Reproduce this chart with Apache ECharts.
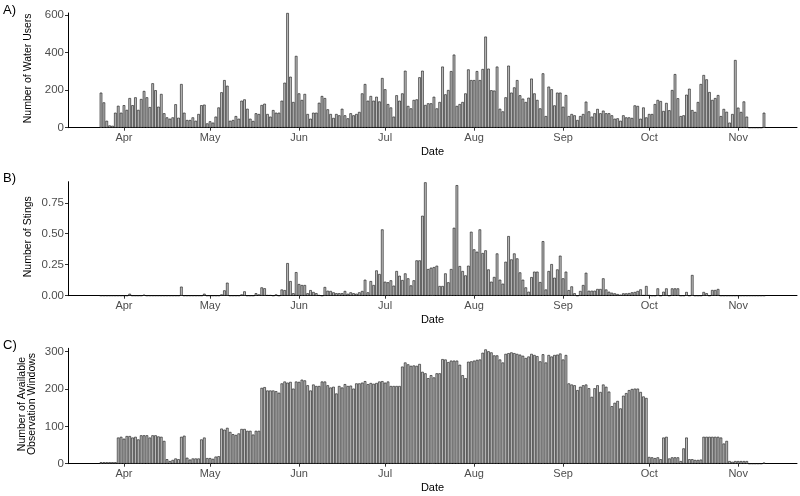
<!DOCTYPE html>
<html>
<head>
<meta charset="utf-8">
<script src="https://cdn.jsdelivr.net/npm/echarts@6/dist/echarts.min.js"></script>
<style>html,body{margin:0;padding:0;background:#fff}#c{width:800px;height:496px}</style>
</head>
<body>
<div id="c"></div>
<script>
// Axis days: Mar 13 .. Nov 21 ; data days: Mar 24 .. Nov 10 (232 days)
const monthNames = ['Mar','Apr','May','Jun','Jul','Aug','Sep','Oct','Nov'];
const monthLens  = [31,30,31,30,31,31,30,31,30];
const axisStart = {m:0, d:13};
const axisDays = 254;
const padBefore = 11;   // Mar 13..Mar 23
const tickLabels = ['Apr','May','Jun','Jul','Aug','Sep','Oct','Nov'];
const yTitles = ['Number of Water Users', 'Number of Stings', 'Number of Available\nObservation Windows'];
const panelTags = ['A)', 'B)', 'C)'];

// A) Number of water users, daily from Mar 24
const waterUsers = [
187,135,37,12,10,80,117,80,120,95,
158,120,162,95,153,196,162,110,237,200,
112,180,77,55,48,55,125,53,233,80,
41,41,55,37,73,120,123,23,34,27,
59,108,189,254,224,37,41,62,48,144,
151,101,48,36,77,73,121,128,73,
59,94,80,80,144,240,612,272,137,383,
183,148,180,73,48,80,80,133,169,158,
98,73,52,73,66,101,66,50,77,66,
73,84,183,233,144,169,144,165,140,265,
205,126,108,59,173,144,183,304,116,103,
148,151,269,304,121,130,130,165,103,137,
326,178,201,302,390,116,126,137,183,311,
254,254,302,254,313,486,
315,200,198,326,101,87,162,331,187,215,254,173,155,137,160,
262,183,148,103,290,62,219,205,119,187,
187,112,174,62,73,66,41,62,73,139,
87,59,77,100,77,91,77,77,66,48,
50,37,66,55,55,52,119,116,48,108,
55,73,73,126,148,142,89,132,93,201,
286,157,62,66,176,208,94,84,137,233,
281,258,190,148,158,174,62,100,85,27,
73,361,107,84,140,59,
0,0,0,0,0,80
];

// B) Number of stings, daily from Mar 24
const stings = [
0,0,0,0,0,0,0,0,0,0,
0.016,0,0,0,0,0.008,0,0,0,0,
0,0,0,0,0,0,0,0,0.073,0,
0,0,0,0,0,0,0.016,0,0,0,
0,0,0.01,0.043,0.105,0,0,0,0,0.01,
0.035,0,0,0,0.02,0.01,0.067,0.06,0.005,0.005,
0,0.01,0,0.05,0.045,0.263,0.118,0.02,0.19,0.094,
0.086,0.086,0.02,0.045,0.03,0.02,0.005,0,0.07,0.04,
0.038,0.027,0.02,0.02,0.02,0.038,0.016,0.027,0.02,0.016,
0.027,0.038,0.129,0.027,0.118,0.086,0.204,0.175,0.535,0.113,
0.108,0.124,0.081,0.199,0.161,0.126,0.18,0.14,0.083,0.124,
0.285,0.285,0.645,0.915,0.215,0.226,0.231,0.242,0.078,0.078,
0.18,0.108,0.215,0.548,0.892,0.239,0.199,0.164,0.242,0.516,
0.374,0.355,0.535,0.344,0.366,0.212,0.113,0.151,0.341,0.129,
0.097,0.274,0.481,0.293,0.341,0.301,0.188,0.129,0.067,0.032,
0.15,0.194,0.194,0.11,0.44,0.05,0.199,0.255,0.145,0.212,
0.323,0.14,0.194,0.045,0.075,0.02,0,0.038,0.086,0.185,
0.04,0.04,0.04,0.054,0.054,0.14,0.05,0.032,0.024,0.019,
0.013,0.008,0.019,0.019,0.021,0.027,0.03,0.038,0.051,0.005,
0.078,0.005,0,0,0.059,0,0.032,0.059,0,0.059,
0.059,0.059,0,0,0.03,0,0.167,0,0,0,
0.03,0.02,0,0.046,0.046,0.054,0,0,0,0,
0,0,0,0,0,0,0,0,0,0,
0,0
];

// C) Number of available observation windows, daily from Mar 24
const windows = [
4,4,4,4,4,4,
70,72,67,74,74,70,72,65,76,76,76,70,76,76,73,72,61,
12,7,10,14,12,
72,75,
16,11,14,14,14,
65,70,
15,15,13,19,20,
94,91,96,85,79,77,81,93,93,88,88,78,88,88,
203,205,196,
196,196,194,190,215,220,217,219,201,220,
219,225,223,210,196,212,208,208,220,220,
210,204,206,188,208,204,213,208,209,201,
215,215,217,221,213,216,214,216,220,221,
217,220,208,208,208,208,260,271,266,262,
263,262,267,246,242,229,237,231,242,242,
280,279,272,276,276,276,265,237,229,273,
274,276,278,279,297,306,301,298,290,290,
279,271,294,296,298,296,294,292,289,283,
287,
294,291,288,274,293,271,291,287,291,292,
295,279,291,215,212,210,197,206,210,212,
202,179,202,210,192,212,206,193,154,163,
168,148,182,189,197,200,201,201,192,180,
176,18,17,15,17,12,70,72,14,17,
17,17,7,41,70,12,12,10,10,11,
72,72,72,72,72,72,70,54,61,7,
5,7,7,7,7,7,
0,0,0,0,0,3
];

// build day categories
const days = [];
{
  let m = axisStart.m, d = axisStart.d;
  for (let i = 0; i < axisDays; i++) {
    days.push(monthNames[m] + '-' + String(d).padStart(2,'0'));
    d++;
    if (d > monthLens[m]) { d = 1; m++; }
  }
}
function pad(arr) {
  const out = new Array(axisDays).fill(null);
  arr.forEach((v, i) => { out[padBefore + i] = v; });
  return out;
}
const isMonthStart = (idx) => days[idx].endsWith('-01') && tickLabels.includes(days[idx].slice(0,3));

const chart = echarts.init(document.getElementById('c'), null, {renderer: 'canvas'});
const txt = '#4d4d4d';
const font = 'Liberation Sans, Arial, sans-serif';

const grids = [
  {left: 68, right: 3, top: 13, height: 114.7},
  {left: 68, right: 3, top: 181.7, height: 114},
  {left: 68, right: 3, top: 348.3, height: 115.4}
];

function xAxis(gi) {
  return {
    type: 'category', gridIndex: gi, data: days, boundaryGap: true,
    axisLine: {lineStyle: {color: '#000', width: 1}},
    axisTick: {show: true, alignWithLabel: true, length: 3, interval: (i) => isMonthStart(i), lineStyle: {color: '#333'}},
    axisLabel: {interval: (i) => isMonthStart(i), formatter: (v) => v.slice(0,3), color: txt, fontSize: 11, fontFamily: font, margin: 5},
    name: 'Date', nameLocation: 'middle', nameGap: 19,
    nameTextStyle: {color: '#000', fontSize: 11, fontFamily: font}
  };
}
function yAxis(gi, max, ticks, fmt) {
  return {
    type: 'value', gridIndex: gi, min: 0, max: max,
    axisLine: {show: true, lineStyle: {color: '#000', width: 1}},
    axisTick: {show: true, length: 3, customValues: ticks, lineStyle: {color: '#333'}},
    axisLabel: {customValues: ticks, color: txt, fontSize: 11.5, fontFamily: font, margin: 4, formatter: fmt},
    splitLine: {show: false}
  };
}
function series(gi, arr) {
  return {
    type: 'bar', xAxisIndex: gi, yAxisIndex: gi, data: pad(arr), barWidth: '90%',
    itemStyle: {color: '#bebebe', borderColor: '#111', borderWidth: 0.6},
    silent: true, animation: false
  };
}
const titleX = [28, 28, 27];
const graphics = [];
grids.forEach((g, i) => {
  graphics.push({
    type: 'text', x: titleX[i], y: g.top + g.height / 2 - 2, rotation: Math.PI / 2, silent: true,
    style: {text: yTitles[i], fill: '#000', font: '10.5px ' + font, textAlign: 'center', textVerticalAlign: 'middle', lineHeight: 10}
  });
  graphics.push({
    type: 'text', x: 3, y: g.top - 3, silent: true,
    style: {text: panelTags[i], fill: '#000', font: '13px ' + font, textAlign: 'left', textVerticalAlign: 'middle'}
  });
});

chart.setOption({
  animation: false,
  textStyle: {fontFamily: font},
  grid: grids,
  graphic: graphics,
  xAxis: [xAxis(0), xAxis(1), xAxis(2)],
  yAxis: [
    yAxis(0, 612, [0,200,400,600], (v) => String(v)),
    yAxis(1, 0.92, [0,0.25,0.5,0.75], (v) => v.toFixed(2)),
    yAxis(2, 309, [0,100,200,300], (v) => String(v))
  ],
  series: [series(0, waterUsers), series(1, stings), series(2, windows)]
});
</script>
</body>
</html>
